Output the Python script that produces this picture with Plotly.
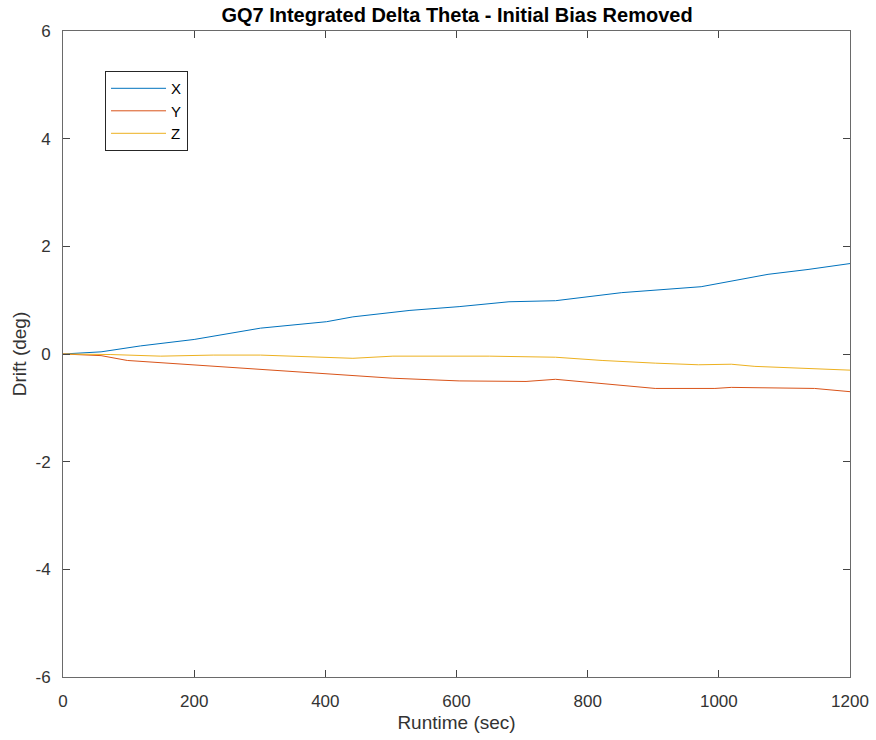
import plotly.graph_objects as go

x_t = [0, 58, 118, 200, 301, 402, 442, 529, 604, 680, 751, 852, 973, 1075, 1136, 1200]
x_v = [0, 0.04, 0.15, 0.27, 0.48, 0.60, 0.69, 0.81, 0.88, 0.97, 0.99, 1.14, 1.25, 1.48, 1.57, 1.68]

y_t = [0, 58, 98, 200, 280, 351, 427, 503, 604, 706, 751, 852, 903, 994, 1019, 1146, 1200]
y_v = [0, -0.03, -0.12, -0.20, -0.27, -0.33, -0.39, -0.45, -0.50, -0.51, -0.47, -0.59, -0.64, -0.64, -0.62, -0.64, -0.70]

z_t = [0, 73, 149, 229, 301, 402, 442, 503, 604, 650, 751, 822, 903, 969, 1019, 1055, 1200]
z_v = [0, -0.01, -0.04, -0.02, -0.02, -0.06, -0.08, -0.04, -0.04, -0.04, -0.06, -0.12, -0.17, -0.20, -0.19, -0.23, -0.30]

x_ticks = [0, 200, 400, 600, 800, 1000, 1200]
x_labels = ["0", "200", "400", "600", "800", "1000", "1200"]
y_ticks = [-6, -4, -2, 0, 2, 4, 6]
y_labels = ["-6", "-4", "-2", "0", "2", "4", "6"]

font = "Liberation Sans, Arial, sans-serif"
fig = go.Figure()
for name, t, v, c in [("X", x_t, x_v, "#0072BD"), ("Y", y_t, y_v, "#D95319"), ("Z", z_t, z_v, "#EDB120")]:
    fig.add_trace(go.Scatter(x=t, y=v, mode="lines", name=name, line=dict(color=c, width=1)))

axis_common = dict(showline=True, linecolor="#6a6a6a", linewidth=1, mirror="ticks",
                   ticks="inside", ticklen=7, tickcolor="#444444", showgrid=False, zeroline=False,
                   automargin=False,
                   tickfont=dict(family=font, size=17, color="#333333"))
fig.update_xaxes(range=[0, 1200], tickvals=x_ticks, ticktext=x_labels, ticklabelstandoff=9,
                 title=dict(text="Runtime (sec)", font=dict(family=font, size=19, color="#333333"), standoff=5), **axis_common)
fig.update_yaxes(range=[-6, 6], tickvals=y_ticks, ticktext=y_labels, ticklabelstandoff=8,
                 title=dict(text="Drift (deg)", font=dict(family=font, size=19, color="#333333"), standoff=3), **axis_common)

fig.update_layout(
    width=876, height=740,
    margin=dict(l=63, r=26, t=31, b=63),
    paper_bgcolor="white", plot_bgcolor="white",
    title=dict(text="<b>GQ7 Integrated Delta Theta - Initial Bias Removed</b>", x=0.5217, xanchor="center",
               y=0.9797, yanchor="middle", yref="container",
               font=dict(family=font, size=20, color="black")),
    legend=dict(x=0.0534, y=0.938, xanchor="left", yanchor="top", bgcolor="white",
                bordercolor="#262626", borderwidth=1, font=dict(family=font, size=15, color="black"),
                tracegroupgap=0, itemwidth=55),
    showlegend=True,
)
fig.write_html("out.html", config={"displayModeBar": False},
               post_script="document.body.style.margin='0px';")
